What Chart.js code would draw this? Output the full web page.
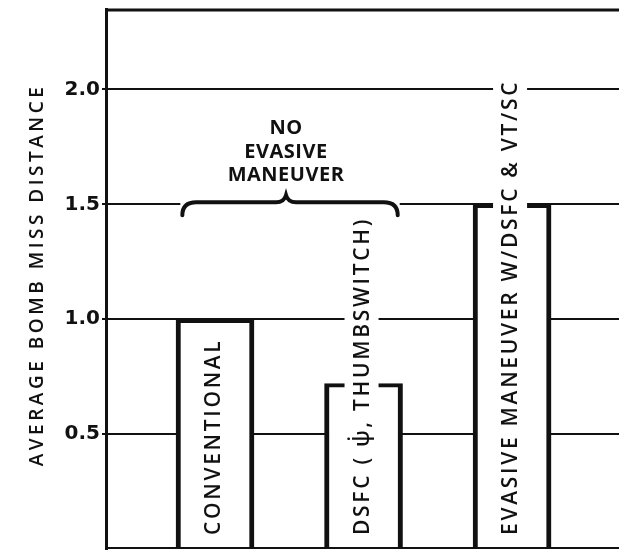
<!DOCTYPE html>
<html>
<head>
<meta charset="utf-8">
<script src="https://cdn.jsdelivr.net/npm/chart.js@4"></script>
<style>
	html, body { margin: 0; padding: 0; background: #fff; }
</style>
</head>
<body>
<canvas id="missChart" width="619" height="550"></canvas>
<script>
// Chart data
const categories = ['CONVENTIONAL', 'DSFC ( \u03C8\u0307, THUMBSWITCH)', 'EVASIVE MANEUVER W/DSFC & VT/SC'];
const missDistance = [1.0, 0.72, 1.5];
const yTicks = [0.5, 1.0, 1.5, 2.0];
const yTitle = 'AVERAGE BOMB MISS DISTANCE';
const groupLabel = ['NO', 'EVASIVE', 'MANEUVER'];
const groupBars = [0, 1]; // bars under the brace

const ink = '#111';

// draws the frame, the rotated bar labels, the brace and the axis title
const decorPlugin = {
	id: 'decor',
	afterDatasetsDraw(chart) {
		const ctx = chart.ctx;
		const area = chart.chartArea;
		const xScale = chart.scales.x;
		const yScale = chart.scales.y;
		const bars = chart.getDatasetMeta(0).data;

		ctx.save();

		// top and bottom frame lines
		ctx.strokeStyle = ink;
		ctx.lineWidth = 3;
		ctx.beginPath();
		ctx.moveTo(area.left, area.top + 1);
		ctx.lineTo(area.right, area.top + 1);
		ctx.stroke();
		ctx.lineWidth = 2;
		ctx.beginPath();
		ctx.moveTo(area.left, area.bottom - 1);
		ctx.lineTo(area.right, area.bottom - 1);
		ctx.stroke();

		// rotated labels inside / above the bars
		ctx.font = '600 21px "Open Sans"';
		ctx.letterSpacing = '2.7px';
		ctx.textBaseline = 'middle';
		ctx.textAlign = 'left';
		categories.forEach((label, i) => {
			const bx = bars[i].x - 2;
			const by = area.bottom - 14;
			const w = ctx.measureText(label).width;
			ctx.save();
			ctx.translate(bx, by);
			ctx.rotate(-Math.PI / 2);
			ctx.fillStyle = '#fff';
			ctx.fillRect(-4, -17, w + 10, 34);
			ctx.fillStyle = ink;
			ctx.fillText(label, 0, 1);
			ctx.restore();
		});

		// brace over the first two bars
		const x0 = xScale.getPixelForValue(groupBars[0] - 0.22);
		const x1 = xScale.getPixelForValue(groupBars[1] + 0.23);
		const yb = yScale.getPixelForValue(1.5) - 2;
		const mid = (x0 + x1) / 2 - 4;
		ctx.fillStyle = '#fff';
		ctx.fillRect(x0 - 2, yb - 4, x1 - x0 + 4, 10);
		ctx.strokeStyle = ink;
		ctx.lineWidth = 4;
		ctx.lineCap = 'round';
		ctx.beginPath();
		ctx.moveTo(x0, yb + 13);
		ctx.quadraticCurveTo(x0, yb, x0 + 14, yb);
		ctx.lineTo(mid - 10, yb);
		ctx.quadraticCurveTo(mid - 2, yb, mid, yb - 7);
		ctx.quadraticCurveTo(mid + 2, yb, mid + 10, yb);
		ctx.lineTo(x1 - 14, yb);
		ctx.quadraticCurveTo(x1, yb, x1, yb + 13);
		ctx.stroke();

		ctx.fillStyle = ink;
		ctx.font = '700 20px "Open Sans"';
		ctx.letterSpacing = '0.5px';
		ctx.textAlign = 'center';
		groupLabel.forEach((line, k) => {
			ctx.fillText(line, mid, yb - 74 + k * 23.5);
		});

		// y axis title
		ctx.font = '600 19px "Open Sans"';
		ctx.letterSpacing = '3.5px';
		ctx.textAlign = 'center';
		ctx.save();
		ctx.translate(38, (area.top + area.bottom) / 2 - 4);
		ctx.rotate(-Math.PI / 2);
		ctx.fillText(yTitle, 0, 0);
		ctx.restore();

		ctx.restore();
	},
};

const ctx = document.getElementById('missChart').getContext('2d');

new Chart(ctx, {
	type: 'bar',
	data: {
		datasets: [
			{
				data: categories.map((c, i) => ({ x: i, y: missDistance[i] })),
				backgroundColor: '#fff',
				borderColor: ink,
				borderWidth: { top: 4, left: 5, right: 5, bottom: 0 },
				borderSkipped: 'start',
				barThickness: 78,
			},
		],
	},
	options: {
		responsive: false,
		animation: false,
		layout: { padding: { top: 9, bottom: 1, left: 0, right: 0 } },
		plugins: {
			legend: { display: false },
			tooltip: { enabled: false },
		},
		scales: {
			x: {
				type: 'linear',
				display: false,
				offset: false,
				grid: { offset: false },
				min: -0.734,
				max: 2.72,
			},
			y: {
				min: 0,
				max: 2.35,
				afterBuildTicks: (scale) => {
					scale.ticks = yTicks.map((v) => ({ value: v }));
				},
				afterFit: (scale) => {
					scale.width = 106;
					scale.paddingTop = 0;
					scale.paddingBottom = 0;
				},
				border: { display: true, width: 3, color: ink },
				grid: { color: ink, lineWidth: 2, tickLength: 4, tickColor: ink },
				ticks: {
					padding: 2,
					color: ink,
					font: { family: 'DejaVu Sans', weight: 'bold', size: 20 },
					callback: (v) => Number(v).toFixed(1),
				},
			},
		},
	},
	plugins: [decorPlugin],
});
</script>
</body>
</html>
